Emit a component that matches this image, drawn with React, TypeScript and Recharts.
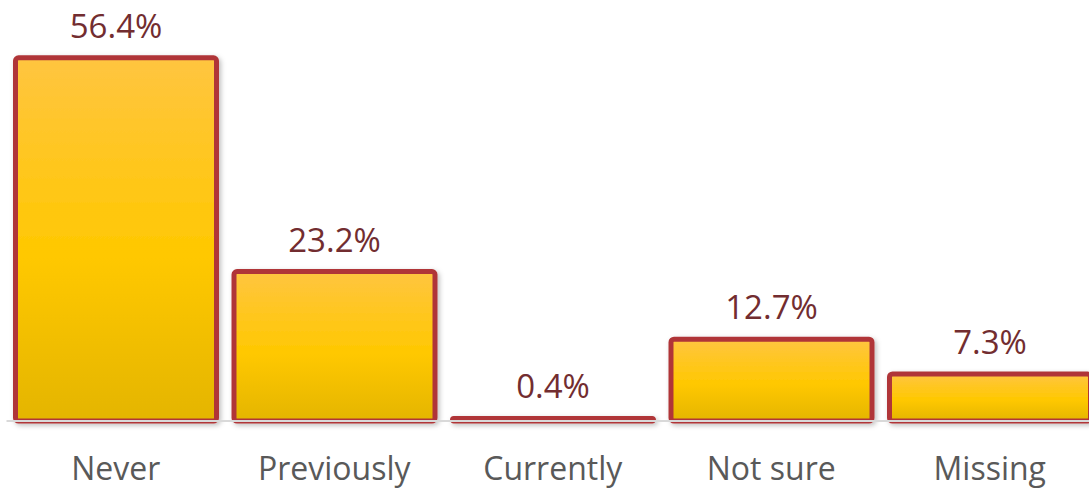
import * as React from "react"
import { BarChart, Bar, XAxis, YAxis, LabelList, Rectangle } from "recharts"

const categories = ["Never", "Previously", "Currently", "Not sure", "Missing"]
const shares = [56.4, 23.2, 0.4, 12.7, 7.3]

const chartData = categories.map((name, i) => ({ name, value: shares[i] }))

const FONT = "'Open Sans', 'Noto Sans', sans-serif"

function ShadowBar(props: any) {
    return <Rectangle {...props} radius={3} filter="url(#barShadow)" />
}

export default function App() {
    return (
        <div style={{ position: "absolute", left: 0, top: 0, width: 1089, height: 491, overflow: "hidden", background: "#fff" }}>
            <BarChart
                width={1100}
                height={491}
                data={chartData}
                margin={{ top: 34.6, right: 1, left: 6.5, bottom: 0 }}
                barCategoryGap={9}
            >
                <defs>
                    <linearGradient id="barFill" x1="0" y1="0" x2="0" y2="1">
                        <stop offset="0%" stopColor="#ffc540" />
                        <stop offset="55%" stopColor="#ffc800" />
                        <stop offset="100%" stopColor="#e4b500" />
                    </linearGradient>
                    <filter id="barShadow" filterUnits="userSpaceOnUse" x="0" y="0" width="1100" height="491">
                        <feDropShadow dx="2" dy="2" stdDeviation="2.5" floodColor="#000" floodOpacity={0.25} />
                    </filter>
                </defs>
                <XAxis
                    dataKey="name"
                    axisLine={{ stroke: "#d9d9d9", strokeWidth: 2 }}
                    tickLine={false}
                    tickSize={0}
                    tickMargin={36}
                    height={70}
                    tick={{ fill: "#595959", fontSize: 32, fontFamily: FONT }}
                    interval={0}
                />
                <YAxis hide domain={[0, 60]} />
                <Bar
                    dataKey="value"
                    fill="url(#barFill)"
                    stroke="#b03638"
                    strokeWidth={5}
                    shape={ShadowBar}
                    isAnimationActive={false}
                >
                    <LabelList
                        dataKey="value"
                        position="top"
                        offset={20}
                        formatter={(v: any) => `${v}%`}
                        style={{ fill: "#722d30", fontSize: 33, fontFamily: FONT }}
                    />
                </Bar>
            </BarChart>
        </div>
    )
}
